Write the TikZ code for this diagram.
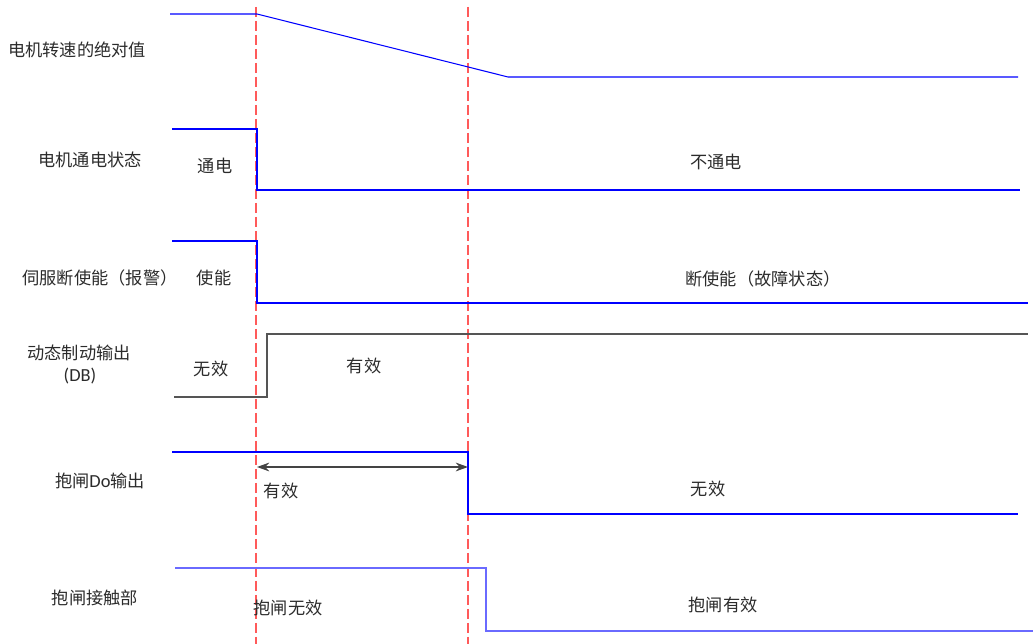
\documentclass[tikz,border=0pt]{standalone}
\usepackage{fontspec}
\setmainfont{Carlito}
\newfontfamily\cjk{Noto Sans CJK SC}
\usetikzlibrary{arrows.meta}
\definecolor{sigblue}{HTML}{0000FF}
\definecolor{softblue}{HTML}{6A6AFF}
\definecolor{cutred}{HTML}{FF5A5A}
\definecolor{dbgray}{HTML}{555555}
\definecolor{txtgray}{HTML}{2B2B2B}
\newcommand\lat[1]{{\rmfamily #1}}
\begin{document}
\begin{tikzpicture}[x=0.02cm,y=-0.02cm,
        sig/.style={draw=sigblue,line width=0.6pt},
        softsig/.style={draw=softblue,line width=0.8pt},
        dbsig/.style={draw=dbgray,line width=0.6pt},
        cut/.style={draw=cutred,line width=0.6pt,dash pattern=on 0.2cm off 0.08cm},
        span/.style={draw=dbgray!80!black,line width=0.8pt,{Stealth[length=7pt,width=5pt]}-{Stealth[length=7pt,width=5pt]}},
        lbl/.style={inner sep=0pt,text=txtgray,font=\cjk\fontsize{9.8}{12}\selectfont}]
        \useasboundingbox (0,0) rectangle (1033,644);
        % Cut-off instants
        \coordinate (t1top) at (256,7);   \coordinate (t1bot) at (256,644);
        \coordinate (t2top) at (468,7);   \coordinate (t2bot) at (468,644);
        \draw[cut] (t1top) -- (t1bot);
        \draw[cut] (t2top) -- (t2bot);
        % Motor speed
        \node[lbl] (spdname) at (77,50) {电机转速的绝对值};
        \draw[sig] (170,14) -- (257,14) -- (508,77) -- (1018,77);
        % Power state
        \node[lbl] (pwrname) at (90,160) {电机通电状态};
        \node[lbl] (pwron) at (215,166) {通电};
        \node[lbl] (pwroff) at (716,162) {不通电};
        \draw[sig] (172,129) -- (257,129) -- (257,190) -- (1020,190);
        % Servo enable
        \node[lbl] (enaname) at (100,278) {伺服断使能（报警）};
        \node[lbl] (enaon) at (214,278) {使能};
        \node[lbl] (enaoff) at (763,279) {断使能（故障状态）};
        \draw[sig] (172,241) -- (257,241) -- (257,303) -- (1028,303);
        % Dynamic brake
        \node[lbl] (dbname) at (79,353) {动态制动输出};
        \node[lbl,font=\rmfamily\fontsize{10.5}{12}\selectfont] (dbtag) at (80,376) {(DB)};
        \node[lbl] (dboff) at (211,369) {无效};
        \node[lbl] (dbon) at (364,366) {有效};
        \draw[dbsig] (174,397) -- (267,397) -- (267,334) -- (1028,334);
        % Brake output
        \node[lbl] (doname) at (100,481) {抱闸\lat{\fontsize{10.5}{12}\selectfont Do}输出};
        \node[lbl] (doon) at (281,491) {有效};
        \node[lbl] (dooff) at (708,489) {无效};
        \draw[sig] (172,452) -- (468,452) -- (468,514) -- (1018,514);
        \coordinate (spanl) at (257,467);
        \coordinate (spanr) at (468,467);
        \draw[span] (spanl) -- (spanr);
        % Brake contact
        \node[lbl] (bkname) at (95,598) {抱闸接触部};
        \node[lbl] (bkoff) at (288,608) {抱闸无效};
        \node[lbl] (bkon) at (723,605) {抱闸有效};
        \draw[softsig] (175,568) -- (486,568) -- (486,631) -- (1033,631);
    \end{tikzpicture}
\end{document}
